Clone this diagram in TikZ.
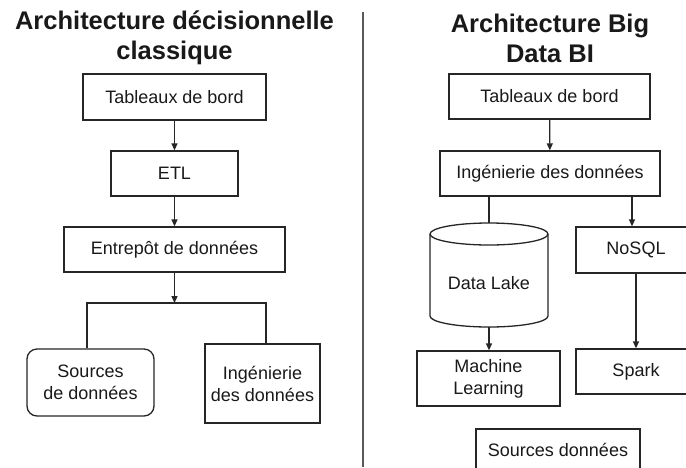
\documentclass[tikz,border=0pt]{standalone}
\usepackage{fontspec}
\setmainfont{Liberation Sans}
\usetikzlibrary{arrows.meta}
\begin{document}
\begin{tikzpicture}[x=1pt,y=-1pt,
  box/.style={draw=black!85, line width=1.3pt, inner sep=0pt, align=center,
    font=\fontsize{18}{22}\selectfont, text=black!90},
  ttl/.style={align=center, font=\fontsize{25.5}{30}\selectfont\bfseries, text=black!90},
  conn/.style={draw=black!85, line width=1.3pt},
  arr/.style={conn, -{Triangle[length=7pt,width=6pt]}}]
\useasboundingbox (0,0) rectangle (686,467);
\clip (0,0) rectangle (686,467);
\fill[white] (0,0) rectangle (686,467);
% divider
\draw[black!65, line width=2pt] (363,12) -- (363,467);
% titles
\node[ttl] (t1) at (174.5,38) {Architecture décisionnelle\\classique};
\node[ttl] (t2) at (550,38) {Architecture Big\\Data BI};
% left column
\node[box, minimum width=183, minimum height=46] (tb1) at (174.5,97) {Tableaux de bord};
\node[box, minimum width=127, minimum height=45] (etl) at (174.5,173.5) {ETL};
\node[box, minimum width=221, minimum height=45] (ent) at (174.5,249.5) {Entrepôt de données};
\node[box, rounded corners=10pt, minimum width=127, minimum height=67] (src) at (90.5,382.5) {Sources\\de données};
\node[box, minimum width=115, minimum height=79] (ing) at (262.5,383.5) {Ingénierie\\des données};
\coordinate (split) at (174.5,303);
\coordinate (sl) at (87,303);
\coordinate (sr) at (266,303);
\draw[arr] (tb1) -- (etl);
\draw[arr] (etl) -- (ent);
\draw[arr] (ent) -- (split);
\draw[conn] (sl |- src.north) -- (sl) -- (sr) -- (sr |- ing.north);
% right column
\node[box, minimum width=201, minimum height=45] (tb2) at (549.5,96.5) {Tableaux de bord};
\node[box, minimum width=220, minimum height=45] (ing2) at (550,173.5) {Ingénierie des données};
\node[box, minimum width=120, minimum height=46] (nosql) at (636,250) {NoSQL};
\node[box, minimum width=120, minimum height=45] (spark) at (636,371.5) {Spark};
\node[box, minimum width=143, minimum height=55] (ml) at (488.5,378.5) {Machine\\Learning};
\node[box, minimum width=164, minimum height=42] (sd) at (558,450) {Sources données};
% cylinder (Data Lake)
\draw[conn, fill=white] (430,234) -- (430,316) arc[start angle=180, end angle=360, x radius=59, y radius=-11] -- (548,234)
  arc[start angle=0, end angle=180, x radius=59, y radius=-11] -- cycle;
\draw[conn] (430,234) arc[start angle=180, end angle=360, x radius=59, y radius=-11];
\node[font=\fontsize{18}{22}\selectfont, text=black!90] (dl) at (489,283) {Data Lake};
\coordinate (dltop) at (489,223);
\coordinate (dlbot) at (489,327);
\coordinate (nx) at (632,0);
\draw[arr] (tb2) -- (ing2);
\draw[conn] (ing2.south -| dltop) -- (dltop);
\draw[arr] (ing2.south -| nx) -- (nx |- nosql.north);
\draw[arr] (dlbot) -- (dlbot |- ml.north);
\draw[arr] (nosql) -- (spark);
\end{tikzpicture}
\end{document}
